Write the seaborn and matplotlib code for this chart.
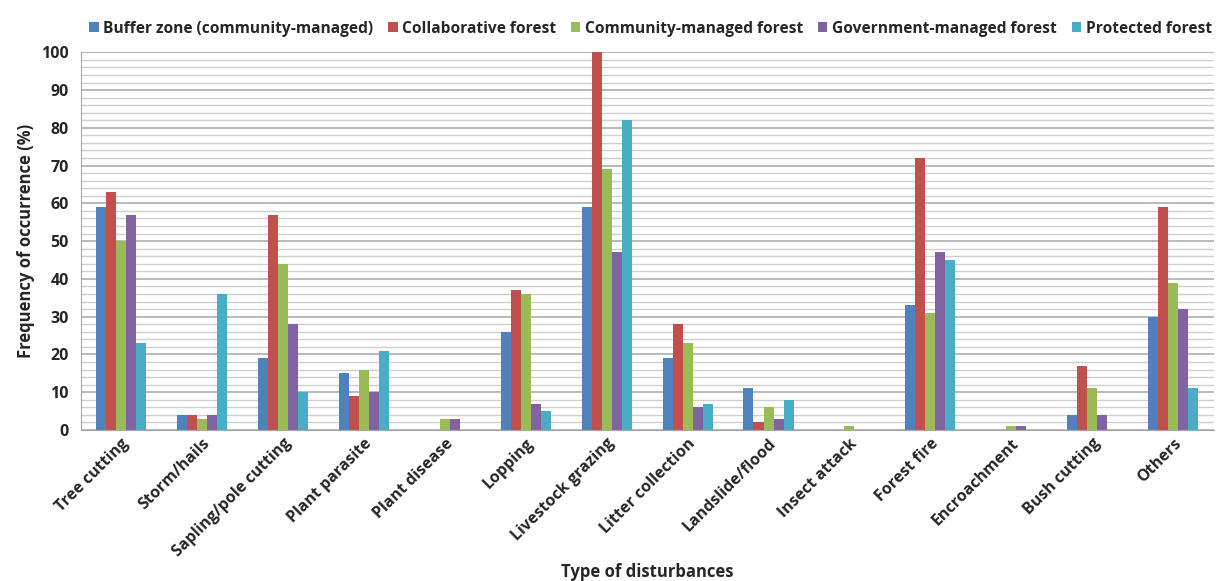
import pandas as pd
import numpy as np
import seaborn as sns
import matplotlib.pyplot as plt
from matplotlib.ticker import MultipleLocator

# disturbance categories (x axis)
categories = ["Tree cutting", "Storm/hails", "Sapling/pole cutting", "Plant parasite",
              "Plant disease", "Lopping", "Livestock grazing", "Litter collection",
              "Landslide/flood", "Insect attack", "Forest fire", "Encroachment",
              "Bush cutting", "Others"]

series = ["Buffer zone (community-managed)", "Collaborative forest",
          "Community-managed forest", "Government-managed forest", "Protected forest"]

buffer_zone = [59, 4, 19, 15, 0, 26, 59, 19, 11, 0, 33, 0, 4, 30]
collaborative = [63, 4, 57, 9, 0, 37, 100, 28, 2, 0, 72, 0, 17, 59]
community = [50, 3, 44, 16, 3, 36, 69, 23, 6, 1, 31, 1, 11, 39]
government = [57, 4, 28, 10, 3, 7, 47, 6, 3, 0, 47, 1, 4, 32]
protected = [23, 36, 10, 21, 0, 5, 82, 7, 8, 0, 45, 0, 0, 11]

colors = ["#4F81BD", "#C0504D", "#9BBB59", "#8064A2", "#4BACC6"]

# long format table for seaborn
rows = []
for name, vals in zip(series, [buffer_zone, collaborative, community, government, protected]):
    for cat, v in zip(categories, vals):
        rows.append({"Type": cat, "Series": name, "Value": v})
df = pd.DataFrame(rows)

sns.set_style("white")
plt.rcParams['font.family'] = ['Open Sans', 'DejaVu Sans']

fig = plt.figure(figsize=(12.21, 5.81), dpi=100)
ax = fig.add_axes([0.066, 0.26, 0.928, 0.65])

sns.barplot(data=df, x="Type", y="Value", hue="Series", hue_order=series,
            palette=colors, saturation=1, width=0.62, linewidth=0, ax=ax)

ax.set_ylim(0, 100)
ax.set_xlim(-0.5, len(categories) - 0.5)
ax.yaxis.set_major_locator(MultipleLocator(10))
ax.yaxis.set_minor_locator(MultipleLocator(2))
ax.grid(axis="y", which="major", color="#a6a6a6", linewidth=1.1, zorder=0)
ax.grid(axis="y", which="minor", color="#cfcfcf", linewidth=1.0, zorder=0)
ax.set_axisbelow(True)

for s in ["top", "right"]:
    ax.spines[s].set_visible(False)
ax.spines["left"].set_color("#a6a6a6")
ax.spines["bottom"].set_color("#a6a6a6")
ax.tick_params(axis="y", which="major", length=5, color="#a6a6a6", labelsize=11.5)
ax.tick_params(axis="y", which="minor", length=0)
ax.tick_params(axis="x", length=0, labelsize=11.5, pad=4)
for lbl in ax.get_yticklabels():
    lbl.set_fontweight("bold")
plt.setp(ax.get_xticklabels(), rotation=45, ha="right", rotation_mode="anchor",
         fontweight="bold")

ax.set_xlabel("Type of disturbances", fontsize=12, fontweight="bold", labelpad=2)
ax.set_ylabel("Frequency of occurrence (%)", fontsize=12, fontweight="bold")

ax.legend(loc="lower center", bbox_to_anchor=(0.503, 1.0), ncol=5, frameon=False,
          fontsize=11.2, handlelength=0.6, handleheight=0.6, handletextpad=0.3,
          columnspacing=0.95, borderaxespad=0.6)
for t in ax.get_legend().get_texts():
    t.set_fontweight("bold")

fig.savefig("out.png", dpi=100)
